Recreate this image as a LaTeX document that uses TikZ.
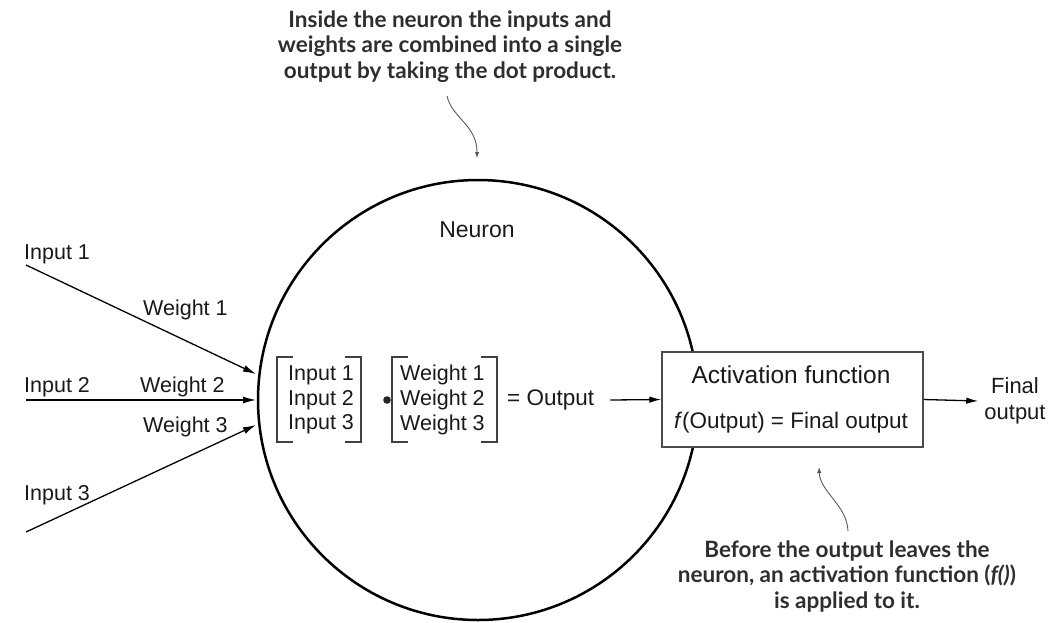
\documentclass[tikz,border=0pt]{standalone}
\usepackage{fontspec}
\setmainfont{Liberation Sans}
\newfontfamily\annotfont{Lato}
\usetikzlibrary{arrows.meta}
\begin{document}
\begin{tikzpicture}[x=1pt,y=-1pt,
  lbl/.style={inner sep=0pt, font=\fontsize{21.5}{25}\selectfont, text=black!90},
  note/.style={inner sep=0pt, align=center, font=\annotfont\bfseries\fontsize{22.5}{25.3}\selectfont, text=black!82},
  inarrow/.style={line width=1.3pt, -{Latex[length=13pt,width=7pt]}},
  noterarrow/.style={line width=0.9pt, draw=black!65, -{Latex[length=6pt,width=4.5pt]}},
  brk/.style={line width=1.4pt, draw=black!75},
]
\useasboundingbox (0,0) rectangle (1064,622);
% neuron circle
\node[circle, draw, line width=2.5pt, minimum size=440pt, inner sep=0pt] (neuron) at (478,400) {};
\node[lbl, font=\fontsize{23}{27}\selectfont] (neuronlbl) at (477,230) {Neuron};

% top annotation
\node[note, anchor=base] (topnote) at (450,78) {Inside the neuron the inputs and\\weights are combined into a single\\output by taking the dot product.};
\coordinate (topA) at (447,96);
\coordinate (topB) at (477,158);
\draw[noterarrow] (topA) .. controls (452,118) and (477,125) .. (topB);

% inputs
\node[lbl, anchor=base west] (in1) at (24,259) {Input 1};
\node[lbl, anchor=base west] (in2) at (24,392) {Input 2};
\node[lbl, anchor=base west] (in3) at (24,500) {Input 3};
\node[lbl, anchor=base west] (w1) at (143,315) {Weight 1};
\node[lbl, anchor=base west] (w2) at (140,392) {Weight 2};
\node[lbl, anchor=base west] (w3) at (143,432) {Weight 3};
\coordinate (s1) at (26,265);
\coordinate (s2) at (26,400);
\coordinate (s3) at (26,532);
\coordinate (t1) at (256,374);
\coordinate (t2) at (256,400);
\coordinate (t3) at (256,425);
\draw[inarrow] (s1) -- (t1);
\draw[inarrow] (s2) -- (t2);
\draw[inarrow] (s3) -- (t3);

% vectors
\node[lbl, align=left, anchor=west, font=\fontsize{21.5}{24.8}\selectfont] (ivec) at (288,400) {Input 1\\Input 2\\Input 3};
\node[lbl, align=left, anchor=west, font=\fontsize{21.5}{24.8}\selectfont] (wvec) at (400,400) {Weight 1\\Weight 2\\Weight 3};
\draw[brk] (293,357) -- (277,357) -- (277,442) -- (293,442);
\draw[brk] (345,357) -- (361,357) -- (361,442) -- (345,442);
\draw[brk] (408,357) -- (392,357) -- (392,442) -- (408,442);
\draw[brk] (481,357) -- (497,357) -- (497,442) -- (481,442);
\fill[black!85] (387,400) circle (3.8pt);
\node[lbl, anchor=west, font=\fontsize{22.5}{26}\selectfont] (eqout) at (507,400) {= Output};

% activation box
\node[draw=black!70, line width=1.4pt, minimum width=261pt, minimum height=95pt, inner sep=0pt, fill=white] (act) at (792.5,399.5) {};
\node[lbl, font=\fontsize{24.5}{28}\selectfont] (acttitle) at (791,375) {Activation function};
\node[lbl, font=\fontsize{22.5}{26}\selectfont] (actformula) at (791,423) {\textit{f}(Output) = Final output};
\draw[line width=1.3pt, -{Latex[length=12pt,width=6.5pt]}] (eqout.east) ++(16,0) -- (act.west);

% final output
\node[lbl, align=center, font=\fontsize{22}{26}\selectfont, inner sep=6pt] (fin) at (1015,401) {Final\\output};
\draw[line width=1.3pt, -{Latex[length=12pt,width=6.5pt]}] (act.east) -- (fin.west);

% bottom annotation
\node[note, anchor=base] (botnote) at (847,608) {Before the output leaves the\\neuron, an activation function (\textit{f()})\\is applied to it.};
\coordinate (botA) at (848,531);
\coordinate (botB) at (819,467);
\draw[noterarrow] (botA) .. controls (847,505) and (820,492) .. (botB);
\end{tikzpicture}
\end{document}
